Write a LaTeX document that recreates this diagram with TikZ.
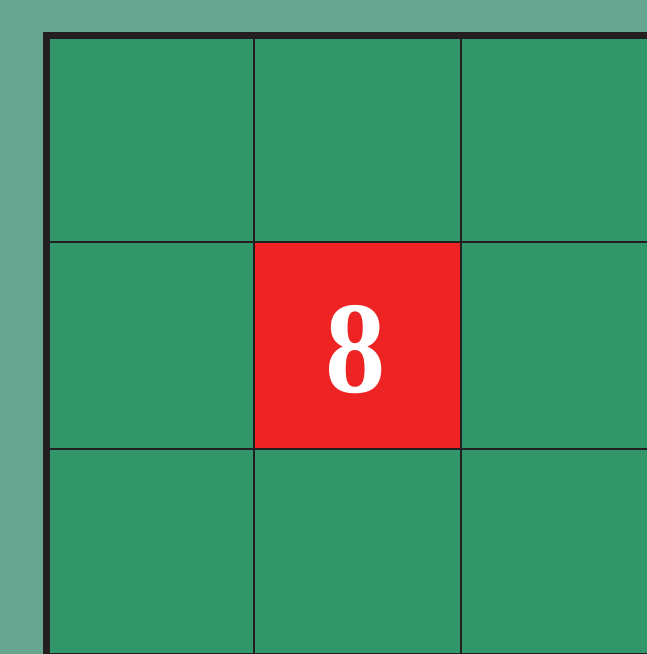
\documentclass[tikz,border=0pt]{standalone}
\usepackage{fontspec}
\newfontfamily\numfont{Liberation Serif}
\usepackage{tikz}
\usepackage{xcolor}
\usetikzlibrary{positioning, calc}
\definecolor{BoardBack}{HTML}{66A590}
\definecolor{CellGreen}{HTML}{31976A}
\definecolor{CellRed}{HTML}{EE2324}
\definecolor{GridDark}{HTML}{231F20}

\begin{document}
\begin{tikzpicture}[x=1pt, y=1pt]
    % Page and background
    \useasboundingbox (0,0) rectangle (647,654);
    \clip (0,0) rectangle (647,654);
    \fill[BoardBack] (0,0) rectangle (647,654);

    % Green cells, middle one red
    \fill[CellGreen] (46.5,-10) rectangle (660,618.5);
    \fill[CellRed] (253.5,204.5) rectangle (460.5,411.5);

    % Thin grid lines
    \foreach \x in {253.5,460.5} {
        \draw[GridDark, line width=2pt] (\x,-10) -- (\x,618.5);
    }
    \foreach \y in {411.5,204.5,-0.5} {
        \draw[GridDark, line width=2pt] (46.5,\y) -- (660,\y);
    }

    % Thick outer border (left and top)
    \draw[GridDark, line width=7pt] (46.5,-10) -- (46.5,618.5) -- (660,618.5);

    % Number in the red cell
    \node[text=white, inner sep=0pt, anchor=base, xscale=0.92, font=\numfont\bfseries\fontsize{131}{131}\selectfont] (num) at (355.5,261) {8};
\end{tikzpicture}
\end{document}
